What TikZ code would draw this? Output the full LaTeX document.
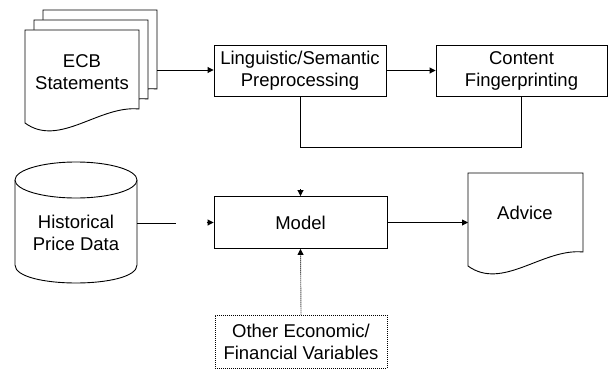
\documentclass[tikz,border=0pt]{standalone}
\usepackage{fontspec}
\setmainfont{Liberation Sans}
\usetikzlibrary{arrows.meta,calc}
\newcommand{\mydoc}[4]{%
  \draw[docline] (#1,#2) -- ({#1+#3},#2) -- ({#1+#3},{#4-14})
    .. controls ({#1+0.65*#3},{#4-18}) and ({#1+0.3*#3},{#4+25}) .. (#1,#4) -- cycle;}
\begin{document}
\begin{tikzpicture}[x=1pt,y=-1pt,
  every node/.style={font=\fontsize{18.5}{22}\selectfont, align=center, inner sep=0pt},
  line/.style={line width=0.9pt},
  docline/.style={draw, fill=white, line width=0.9pt},
  box/.style={draw, line width=0.9pt, minimum height=51pt},
  dotbox/.style={draw, line width=0.9pt, dash pattern=on 1pt off 1pt, minimum height=53pt},
  arr/.style={line width=0.9pt, -{Triangle[length=6pt,width=6pt]}},
  dotarr/.style={arr, dash pattern=on 1pt off 1pt}
]
\useasboundingbox (0,0) rectangle (609,369);

% ECB statements stack
\mydoc{43}{10}{114}{103}
\mydoc{34}{20}{114}{113}
\mydoc{25}{30}{114}{123}
\node (ecb) at (82,72) {ECB\\Statements};
\coordinate (ecbR) at (157,70);

% top row boxes
\node[box, minimum width=172pt] (ling) at (300,70.5) {Linguistic/Semantic\\Preprocessing};
\node[box, minimum width=171pt] (content) at (521.5,70.5) {Content\\Fingerprinting};

% cylinder
\draw[docline] (15,180) -- (15,265) .. controls (15,289) and (137,289) .. (137,265) -- (137,180);
\draw[docline] (76,180) ellipse[x radius=61, y radius=18];
\node (hist) at (76,233) {Historical\\Price Data};
\coordinate (histR) at (137,223);
\coordinate (gapL) at (176,223);

% model
\node[box, minimum width=173pt, minimum height=52pt] (model) at (300.5,222.5) {Model};

% other variables
\node[dotbox, minimum width=172pt] (other) at (301,341.5) {Other Economic/\\Financial Variables};

% advice
\mydoc{468}{173}{115}{266}
\node[anchor=base] (advice) at (525,219) {Advice};
\coordinate (advL) at (468,222.5);

% connectors
\draw[arr] (ecbR) -- (ecbR -| ling.west);
\draw[arr] (ling.east) -- (content.west);
\draw[line] (ling.south) -- ++(0,51) -| (content.south);
\draw[line] (histR) -- (gapL);
\draw[arr] ($(model.west)+(-7,0)$) -- (model.west);
\draw[arr] ($(model.north)+(0,-7)$) -- (model.north);
\draw[arr] (model.east) -- (advL);
\draw[dotarr] (other.north) -- (model.south);
\end{tikzpicture}
\end{document}
